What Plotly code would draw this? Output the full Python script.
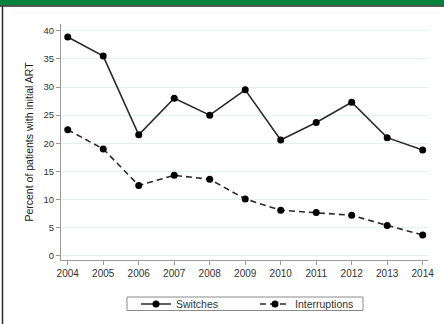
import plotly.graph_objects as go

# Share of patients with initial ART who switched or interrupted treatment
years = [2004, 2005, 2006, 2007, 2008, 2009, 2010, 2011, 2012, 2013, 2014]
switches = [38.9, 35.5, 21.5, 28.0, 25.0, 29.5, 20.6, 23.7, 27.3, 21.0, 18.8]
interruptions = [22.4, 19.0, 12.5, 14.3, 13.6, 10.1, 8.1, 7.7, 7.2, 5.4, 3.7]
y_ticks = [0, 5, 10, 15, 20, 25, 30, 35, 40]

W, H = 444, 324
ML, MR, MT, MB = 61, 16, 24, 64
PW, PH = W - ML - MR, H - MT - MB

FONT = "Liberation Sans, Arial, sans-serif"
INK = "#2b2b2b"
TXT = "#333333"
AXIS = "#9a9a9a"


def px_x(p):
    return (p - ML) / PW


def px_y(p):
    return 1 - (p - MT) / PH


fig = go.Figure()
fig.add_trace(go.Scatter(
    x=years, y=switches, name="Switches", mode="lines+markers",
    line=dict(color=INK, width=1.6),
    marker=dict(color="black", size=7, symbol="circle"),
))
fig.add_trace(go.Scatter(
    x=years, y=interruptions, name="Interruptions", mode="lines+markers",
    line=dict(color=INK, width=1.6, dash="6px,4px"),
    marker=dict(color="black", size=7, symbol="circle"),
))

shapes = [
    # green header band with its dark rule
    dict(type="rect", xref="paper", yref="paper",
         x0=px_x(0), x1=px_x(W), y0=px_y(0), y1=px_y(5.5),
         fillcolor="#00843d", line=dict(width=0), layer="below"),
    dict(type="line", xref="paper", yref="paper",
         x0=px_x(0), x1=px_x(W), y0=px_y(6), y1=px_y(6),
         line=dict(color="#2a2a2a", width=1.5)),
    # left frame rule
    dict(type="line", xref="paper", yref="paper",
         x0=px_x(2.5), x1=px_x(2.5), y0=px_y(6), y1=px_y(H),
         line=dict(color="#2a2a2a", width=1.5)),
    # faint graph-region edge
    dict(type="line", xref="paper", yref="paper",
         x0=px_x(12), x1=px_x(440), y0=px_y(13), y1=px_y(13),
         line=dict(color="#f0f4f6", width=1)),
    # legend frame
    dict(type="rect", xref="paper", yref="paper",
         x0=px_x(127), x1=px_x(363), y0=px_y(297), y1=px_y(310.5),
         fillcolor="white", line=dict(color="#8a8a8a", width=1), layer="below"),
]

fig.update_layout(
    width=W, height=H,
    margin=dict(l=ML, r=MR, t=MT, b=MB, pad=0, autoexpand=False),
    paper_bgcolor="white", plot_bgcolor="white",
    font=dict(family=FONT, color=TXT, size=10),
    showlegend=True,
    legend=dict(
        orientation="h", x=px_x(136), xanchor="left",
        y=px_y(304), yanchor="middle",
        borderwidth=0, bgcolor="rgba(0,0,0,0)",
        font=dict(size=10.5, color=TXT),
        itemwidth=30, entrywidth=74, tracegroupgap=0,
    ),
    shapes=shapes,
    xaxis=dict(
        range=[2003.81, 2014.15],
        tickmode="array", tickvals=years, ticktext=[str(y) for y in years],
        showgrid=False, zeroline=False, mirror=False,
        showline=True, linecolor=AXIS, linewidth=1,
        ticks="outside", ticklen=4, tickcolor=AXIS, tickwidth=1,
        tickfont=dict(size=10, color=TXT),
    ),
    yaxis=dict(
        range=[-0.75, 41.2],
        tickmode="array", tickvals=y_ticks, ticktext=[str(v) for v in y_ticks],
        showgrid=True, gridcolor="#e6eef1", gridwidth=1,
        zeroline=False, mirror=False,
        showline=True, linecolor=AXIS, linewidth=1,
        ticks="outside", ticklen=4, tickcolor=AXIS, tickwidth=1,
        tickfont=dict(size=9.5, color=TXT),
        title=dict(text="Percent of patients with initial ART",
                   font=dict(size=10.5, color="#222222"), standoff=7),
    ),
)

fig.write_html("out.html")
